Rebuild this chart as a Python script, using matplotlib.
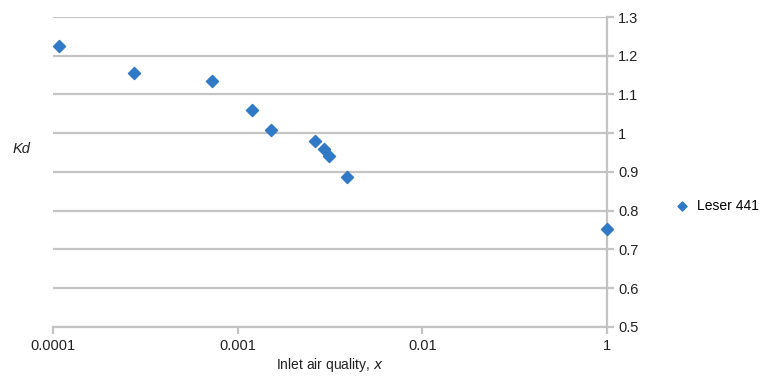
import numpy as np
import matplotlib.pyplot as plt
from matplotlib.ticker import FixedLocator, FixedFormatter, NullLocator

# data (x on log scale, last point sits at the right edge)
quality = [1.08e-4, 2.75e-4, 7.3e-4, 1.19e-3, 1.51e-3, 2.63e-3, 2.95e-3, 3.12e-3, 3.92e-3, 1e-1]
kd = [1.225, 1.155, 1.136, 1.060, 1.009, 0.979, 0.960, 0.940, 0.886, 0.752]

x_ticks = [1e-4, 1e-3, 1e-2, 1e-1]
x_tick_labels = ["0.0001", "0.001", "0.01", "1"]
y_ticks = [0.5, 0.6, 0.7, 0.8, 0.9, 1.0, 1.1, 1.2, 1.3]
y_tick_labels = ["0.5", "0.6", "0.7", "0.8", "0.9", "1", "1.1", "1.2", "1.3"]

plt.rcParams['font.family'] = ['Liberation Sans Narrow', 'Liberation Sans', 'DejaVu Sans']

fig = plt.figure(figsize=(7.64, 3.78), dpi=100)
ax = fig.add_axes([0.0694, 0.135, 0.7251, 0.820])

grid_col = "#c4c4c4"
ax.set_xscale("log")
ax.set_xlim(1e-4, 1e-1)
ax.set_ylim(0.5, 1.3)

for y in y_ticks:
    ax.axhline(y, color=grid_col, lw=1.6, zorder=1)

ax.scatter(quality, kd, marker="D", s=38, color="#2f79c6", edgecolors="#2f79c6",
           zorder=3, clip_on=False, label="Leser 441")

ax.xaxis.set_major_locator(FixedLocator(x_ticks))
ax.xaxis.set_major_formatter(FixedFormatter(x_tick_labels))
ax.xaxis.set_minor_locator(NullLocator())
ax.yaxis.tick_right()
ax.set_yticks(y_ticks)
ax.set_yticklabels(y_tick_labels)

for s in ["top", "left"]:
    ax.spines[s].set_visible(False)
ax.spines["bottom"].set_color(grid_col)
ax.spines["bottom"].set_linewidth(1.6)
ax.spines["right"].set_color(grid_col)
ax.spines["right"].set_linewidth(1.6)
ax.tick_params(axis="x", colors=grid_col, length=5, width=1.6, labelcolor="#222222",
               labelsize=10.5, pad=4)
ax.tick_params(axis="y", colors=grid_col, length=5, width=1.6, labelcolor="#222222",
               labelsize=10.5, pad=3)

ax.set_xlabel("Inlet air quality, $\\it{x}$", fontsize=10, color="#222222", labelpad=2)
fig.text(0.016, 0.607, "Kd", fontsize=10.5, style="italic", color="#222222", va="center")

ax.legend(loc="center left", bbox_to_anchor=(1.10, 0.39), frameon=False, fontsize=10,
          handletextpad=0.1, markerscale=0.75, borderaxespad=0)

plt.savefig("out.png", dpi=100)
plt.close()
